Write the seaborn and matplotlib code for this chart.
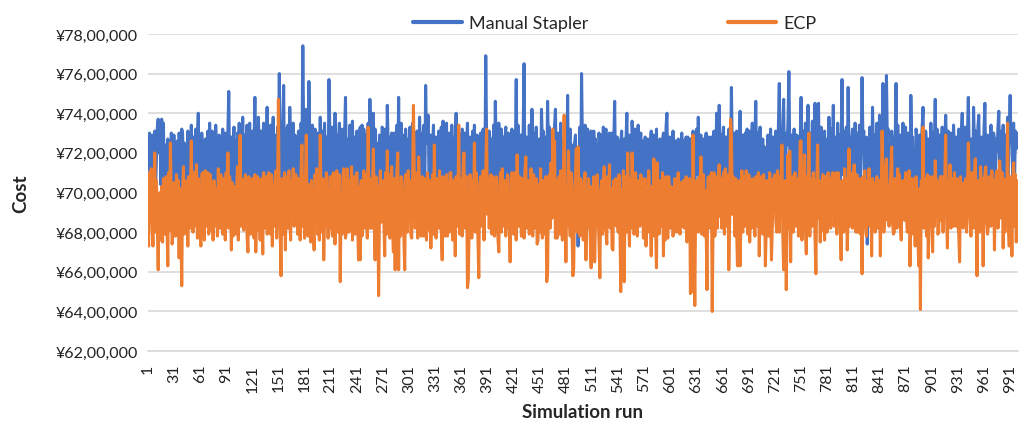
import numpy as np
import pandas as pd
import matplotlib
matplotlib.use("Agg")
import matplotlib.pyplot as plt
from matplotlib.lines import Line2D
from matplotlib.ticker import FuncFormatter
import seaborn as sns

# cost per simulation run, in lakh (x 1,00,000)
manual_stapler = [
    72.4, 69.6, 73.0, 71.0, 69.9, 72.9, 69.5, 72.3, 73.1, 70.2,
    71.8, 73.3, 73.7, 72.0, 73.6, 70.4, 73.7, 72.3, 73.5, 70.5,
    69.8, 72.4, 70.1, 72.7, 69.6, 72.1, 70.3, 73.0, 71.9, 69.9,
    72.9, 69.7, 72.3, 69.4, 72.6, 70.2, 73.0, 72.0, 69.6, 73.2,
    73.0, 70.0, 72.5, 68.0, 71.9, 69.8, 73.1, 69.5, 72.3, 70.4,
    73.4, 70.1, 72.8, 69.5, 72.0, 73.2, 69.8, 72.6, 74.0, 70.3,
    72.1, 69.6, 73.0, 70.0, 71.8, 69.5, 72.7, 70.2, 72.3, 73.1,
    69.9, 73.5, 71.8, 69.6, 73.1, 70.1, 72.5, 69.7, 73.4, 71.9,
    69.5, 72.2, 72.9, 69.9, 72.6, 69.6, 73.2, 71.7, 70.0, 73.0,
    72.4, 69.8, 73.1, 75.1, 70.6, 69.9, 72.8, 69.6, 72.5, 73.3,
    70.0, 72.6, 69.7, 73.0, 71.8, 73.5, 69.9, 72.7, 71.0, 73.8,
    70.3, 72.9, 69.7, 72.3, 73.4, 69.8, 72.1, 73.5, 70.1, 72.6,
    73.1, 69.6, 72.4, 74.8, 70.7, 73.0, 70.0, 73.8, 72.3, 69.8,
    73.1, 70.4, 72.5, 73.5, 69.9, 72.7, 71.1, 74.3, 70.2, 73.2,
    70.6, 73.4, 69.8, 72.4, 73.8, 70.3, 72.9, 72.0, 69.6, 73.3,
    72.1, 76.0, 72.8, 70.1, 73.5, 72.5, 75.4, 70.4, 73.2, 70.8,
    69.9, 73.4, 70.6, 74.3, 72.7, 69.8, 72.3, 73.5, 70.3, 72.9,
    72.2, 69.7, 69.2, 73.1, 70.8, 70.1, 73.5, 72.1, 77.4, 73.0,
    70.2, 72.6, 74.2, 71.0, 70.0, 75.6, 72.7, 70.8, 69.9, 73.4,
    72.4, 69.7, 73.2, 70.6, 69.6, 73.0, 72.2, 70.1, 73.8, 70.7,
    73.1, 69.8, 72.5, 73.5, 70.4, 72.8, 71.0, 69.7, 75.7, 73.2,
    70.6, 70.0, 73.3, 72.3, 69.6, 74.0, 70.9, 72.9, 70.2, 72.6,
    73.5, 69.9, 72.2, 73.2, 69.6, 72.5, 73.0, 74.8, 70.8, 70.1,
    72.7, 70.7, 73.4, 69.8, 72.3, 73.6, 70.3, 72.8, 71.0, 70.0,
    73.1, 72.4, 69.7, 73.1, 73.3, 70.6, 73.4, 70.1, 73.2, 72.2,
    72.9, 69.9, 72.6, 73.5, 70.9, 74.7, 72.7, 70.4, 72.3, 74.0,
    70.8, 73.2, 69.8, 72.5, 70.2, 69.1, 72.9, 70.6, 70.0, 73.3,
    73.2, 70.3, 72.6, 73.2, 69.9, 74.4, 72.2, 72.8, 69.7, 72.4,
    73.0, 70.7, 69.6, 73.0, 72.3, 70.2, 73.4, 70.9, 74.8, 70.4,
    72.5, 73.5, 70.0, 72.9, 70.6, 69.8, 73.2, 72.1, 70.3, 72.7,
    70.8, 73.3, 70.1, 72.6, 73.5, 69.9, 72.8, 72.2, 70.4, 73.1,
    70.7, 70.2, 73.8, 72.3, 69.7, 73.0, 70.6, 73.4, 70.0, 75.4,
    72.5, 73.1, 73.9, 70.1, 72.2, 72.9, 70.4, 72.4, 73.4, 69.8,
    72.3, 72.8, 70.3, 70.9, 73.1, 70.2, 72.6, 73.3, 70.7, 73.6,
    70.4, 73.1, 72.2, 73.5, 70.2, 72.5, 73.0, 69.9, 70.8, 73.4,
    72.1, 70.1, 72.7, 72.4, 74.0, 70.4, 73.1, 72.0, 70.0, 72.9,
    70.6, 73.2, 70.3, 72.6, 73.0, 69.8, 72.3, 73.5, 70.8, 70.1,
    72.8, 72.1, 70.2, 73.1, 70.7, 73.4, 69.9, 72.5, 72.9, 70.4,
    69.7, 72.2, 73.0, 70.1, 72.6, 73.2, 70.3, 70.8, 76.9, 72.7,
    70.9, 70.0, 73.1, 72.4, 69.8, 72.7, 70.7, 73.4, 70.2, 74.6,
    72.3, 72.9, 69.9, 73.5, 70.9, 70.3, 73.2, 70.6, 72.8, 70.1,
    72.6, 73.3, 70.4, 72.2, 73.0, 69.8, 72.5, 72.7, 73.2, 70.8,
    70.2, 73.1, 72.1, 75.7, 70.6, 73.4, 70.0, 72.4, 72.9, 70.3,
    72.3, 73.2, 76.5, 70.8, 69.9, 72.8, 72.2, 70.4, 73.4, 70.9,
    70.1, 74.2, 72.5, 73.0, 69.7, 72.1, 73.3, 70.3, 72.6, 72.7,
    70.7, 70.0, 74.2, 72.3, 73.1, 69.8, 72.4, 72.8, 70.4, 74.6,
    72.1, 73.3, 70.2, 70.8, 72.9, 69.9, 72.5, 73.4, 74.2, 70.6,
    70.1, 73.0, 72.2, 70.4, 73.5, 70.8, 70.0, 72.7, 72.3, 70.3,
    73.1, 70.7, 74.9, 70.2, 72.6, 73.2, 69.8, 72.4, 70.9, 70.1,
    72.5, 72.9, 69.9, 72.2, 67.3, 70.6, 73.3, 70.3, 76.0, 72.4,
    70.0, 72.8, 73.4, 70.8, 70.2, 73.2, 72.3, 69.7, 72.6, 73.1,
    70.9, 70.1, 73.1, 70.6, 72.7, 69.9, 72.4, 69.6, 73.0, 72.2,
    70.3, 72.9, 70.7, 73.3, 70.0, 72.6, 73.2, 70.4, 72.1, 72.7,
    73.0, 70.2, 72.3, 73.0, 69.9, 72.5, 74.6, 70.8, 70.1, 72.8,
    72.6, 70.6, 69.8, 72.4, 73.1, 70.3, 72.2, 72.7, 70.0, 72.6,
    74.0, 70.9, 70.2, 72.9, 70.7, 69.9, 73.6, 72.5, 70.4, 73.2,
    72.1, 70.1, 72.8, 73.4, 70.3, 72.3, 73.0, 69.7, 72.6, 70.6,
    70.0, 72.8, 70.9, 70.4, 72.7, 72.2, 69.8, 72.5, 73.1, 70.2,
    72.3, 72.9, 69.9, 70.7, 73.2, 70.3, 72.4, 69.6, 72.7, 72.1,
    70.1, 72.6, 73.0, 70.4, 70.8, 73.3, 74.0, 70.2, 72.2, 72.8,
    69.8, 72.5, 70.6, 73.1, 70.0, 72.3, 72.6, 70.3, 70.9, 72.7,
    69.9, 72.4, 70.7, 73.0, 70.1, 72.6, 69.7, 72.1, 72.8, 70.4,
    72.8, 70.8, 70.0, 72.7, 72.3, 70.2, 73.1, 70.6, 69.8, 72.5,
    73.2, 70.9, 73.8, 70.4, 72.4, 72.9, 69.9, 72.2, 72.7, 70.3,
    72.1, 73.0, 70.1, 72.6, 72.8, 70.0, 70.8, 72.8, 70.4, 72.3,
    73.1, 70.2, 70.9, 74.0, 72.5, 69.9, 74.4, 72.2, 72.9, 70.1,
    72.6, 73.3, 69.8, 72.1, 72.8, 70.3, 72.4, 73.2, 70.0, 70.8,
    75.3, 72.3, 70.4, 73.0, 70.6, 70.1, 73.1, 72.5, 69.7, 72.2,
    74.1, 70.9, 70.2, 72.9, 72.3, 69.9, 73.0, 70.7, 73.2, 70.3,
    72.6, 73.1, 70.1, 72.2, 73.5, 69.8, 72.4, 72.8, 74.6, 70.6,
    73.0, 70.0, 72.5, 73.3, 70.4, 70.8, 72.7, 69.9, 72.3, 69.3,
    72.1, 69.4, 72.9, 70.6, 70.2, 73.2, 70.9, 70.1, 72.8, 72.5,
    70.4, 73.1, 72.2, 69.8, 73.4, 75.5, 70.8, 72.7, 70.3, 73.3,
    74.7, 70.7, 70.1, 73.0, 72.4, 73.6, 76.1, 72.1, 70.0, 72.9,
    72.5, 70.4, 73.2, 70.9, 69.9, 72.9, 72.3, 72.8, 70.2, 72.6,
    74.8, 70.8, 70.1, 73.1, 72.2, 73.5, 69.8, 72.6, 74.4, 70.6,
    73.0, 70.2, 72.3, 73.6, 69.7, 72.1, 74.5, 72.5, 70.0, 72.9,
    74.5, 70.7, 70.3, 73.3, 70.9, 69.9, 72.6, 73.1, 69.5, 72.2,
    72.7, 70.1, 73.8, 70.8, 70.4, 73.2, 72.1, 74.4, 70.2, 72.8,
    72.3, 69.8, 73.5, 70.6, 72.9, 70.3, 72.4, 75.7, 70.9, 73.1,
    70.0, 72.6, 73.3, 70.4, 75.3, 72.1, 72.7, 70.1, 72.5, 73.2,
    70.7, 69.9, 73.5, 72.4, 69.7, 73.0, 70.6, 73.4, 70.3, 72.3,
    75.8, 72.6, 73.1, 70.0, 70.9, 72.8, 67.4, 72.5, 70.2, 73.3,
    70.8, 70.4, 74.3, 72.2, 72.9, 69.9, 72.4, 73.5, 70.6, 70.1,
    73.9, 72.1, 73.0, 70.3, 75.5, 72.3, 72.7, 69.8, 75.9, 72.6,
    73.2, 70.7, 70.2, 68.8, 73.1, 70.9, 70.1, 72.8, 72.5, 75.5,
    70.8, 73.4, 70.0, 72.3, 72.9, 70.4, 72.1, 73.5, 69.8, 72.4,
    73.3, 70.6, 69.9, 73.0, 72.2, 70.3, 74.9, 72.6, 72.8, 70.1,
    70.9, 69.7, 73.2, 72.7, 70.2, 72.3, 72.9, 69.9, 72.5, 73.3,
    74.3, 70.7, 70.0, 73.1, 72.4, 70.4, 72.7, 72.1, 70.1, 73.5,
    70.8, 73.0, 70.3, 72.3, 74.7, 70.6, 73.2, 69.9, 72.6, 72.9,
    70.2, 72.2, 73.3, 70.7, 69.8, 72.7, 73.9, 72.1, 70.4, 73.1,
    72.5, 70.1, 73.0, 70.8, 70.0, 73.4, 72.3, 70.3, 72.8, 70.9,
    69.9, 73.2, 70.6, 72.6, 72.9, 74.0, 70.2, 72.2, 73.3, 70.7,
    70.4, 73.0, 74.8, 72.1, 70.1, 72.7, 72.4, 69.8, 74.3, 72.5,
    73.1, 70.6, 70.3, 73.3, 73.9, 70.9, 70.0, 72.8, 72.3, 70.4,
    73.2, 74.5, 70.8, 70.2, 72.9, 72.5, 69.9, 72.2, 73.4, 70.6,
    70.1, 73.0, 72.6, 70.3, 72.7, 72.1, 73.3, 74.1, 70.7, 70.0,
    73.1, 72.4, 73.4, 70.4, 72.3, 72.9, 70.2, 73.8, 70.9, 73.2,
    74.9, 72.5, 73.3, 70.8, 73.5, 70.3, 73.1, 72.2, 73.0, 72.8,
]

ecp = [
    68.3, 67.3, 71.0, 69.0, 71.2, 68.2, 67.3, 69.6, 72.0, 68.0,
    70.6, 68.2, 66.1, 69.8, 70.0, 67.6, 70.3, 67.5, 70.7, 68.8,
    67.9, 70.8, 68.6, 66.3, 71.0, 68.1, 72.5, 69.5, 67.4, 68.0,
    70.5, 69.7, 67.8, 70.9, 68.7, 70.6, 66.7, 70.2, 68.3, 65.3,
    70.1, 71.3, 67.9, 70.6, 68.5, 70.4, 67.3, 70.8, 68.2, 69.9,
    72.6, 68.6, 68.0, 71.0, 68.3, 70.2, 71.4, 67.7, 70.7, 68.9,
    68.0, 67.3, 70.9, 71.0, 68.7, 67.6, 71.1, 68.3, 70.3, 71.0,
    67.9, 70.4, 70.9, 68.1, 70.0, 67.6, 70.6, 68.3, 69.8, 70.2,
    67.8, 71.2, 68.6, 68.2, 70.9, 68.5, 67.9, 70.7, 69.9, 67.6,
    71.0, 68.7, 72.0, 68.2, 70.8, 69.9, 67.1, 70.5, 67.8, 70.3,
    70.3, 67.9, 70.2, 71.3, 67.6, 69.9, 72.9, 68.3, 70.7, 68.8,
    68.1, 68.2, 70.9, 69.9, 67.8, 67.0, 70.8, 69.0, 67.9, 70.5,
    70.7, 68.5, 67.7, 70.9, 67.0, 70.0, 70.8, 68.1, 70.5, 67.6,
    70.7, 69.0, 66.9, 71.0, 68.2, 70.3, 70.8, 67.9, 68.0, 71.0,
    68.6, 67.9, 70.9, 67.3, 70.4, 68.3, 70.6, 71.1, 67.7, 70.0,
    74.7, 68.8, 68.1, 65.8, 70.7, 68.5, 67.9, 71.0, 67.1, 70.2,
    70.8, 68.2, 71.1, 69.0, 67.6, 70.6, 68.7, 71.2, 68.3, 68.7,
    70.9, 69.9, 67.9, 70.7, 68.5, 67.6, 71.1, 72.4, 68.3, 70.3,
    67.7, 70.8, 72.9, 68.6, 67.8, 70.4, 70.2, 67.5, 70.6, 68.9,
    68.2, 67.1, 70.9, 70.0, 71.2, 67.9, 70.5, 67.6, 72.9, 69.0,
    68.0, 70.7, 66.6, 68.8, 68.3, 71.0, 70.7, 67.7, 70.2, 68.2,
    70.8, 68.5, 67.8, 71.0, 68.9, 67.4, 70.6, 71.1, 68.0, 70.0,
    70.9, 65.5, 69.9, 67.9, 70.7, 71.2, 68.5, 67.7, 68.0, 71.2,
    68.7, 68.0, 70.6, 70.0, 71.3, 67.6, 70.4, 70.8, 67.9, 68.6,
    71.0, 68.3, 66.6, 70.3, 66.6, 70.6, 67.8, 68.9, 71.1, 68.2,
    70.2, 70.9, 67.7, 73.3, 68.5, 68.2, 70.7, 68.2, 70.1, 72.2,
    68.6, 66.6, 70.8, 68.3, 70.3, 64.8, 68.9, 71.1, 68.5, 70.4,
    70.6, 68.8, 66.8, 71.0, 67.9, 72.1, 68.7, 70.9, 67.7, 70.2,
    71.3, 68.2, 67.0, 70.7, 66.1, 70.1, 71.0, 72.0, 66.1, 70.5,
    67.8, 70.8, 70.6, 68.5, 67.7, 66.1, 70.9, 69.0, 68.0, 71.1,
    68.8, 70.6, 67.9, 67.7, 70.5, 74.4, 70.7, 68.2, 68.7, 71.0,
    67.7, 71.8, 70.2, 68.3, 67.8, 70.8, 68.9, 67.8, 70.7, 68.6,
    67.6, 71.0, 70.3, 68.1, 70.6, 67.2, 70.0, 70.9, 67.9, 72.4,
    68.5, 67.7, 70.7, 70.0, 68.2, 71.1, 68.7, 68.0, 66.6, 70.8,
    68.9, 67.8, 69.5, 70.9, 67.8, 70.5, 68.0, 71.0, 71.0, 68.6,
    67.6, 70.6, 70.1, 66.8, 70.8, 68.3, 68.9, 73.4, 67.9, 70.7,
    68.8, 67.8, 71.1, 72.0, 68.2, 70.3, 70.8, 65.2, 65.6, 68.5,
    70.9, 70.0, 67.7, 70.6, 68.7, 72.5, 68.0, 71.0, 68.6, 67.8,
    65.7, 70.4, 70.8, 68.3, 68.5, 71.1, 67.6, 70.2, 71.0, 73.2,
    68.9, 70.7, 68.2, 70.3, 70.9, 67.9, 70.8, 68.7, 67.8, 69.0,
    70.8, 68.6, 67.7, 67.0, 70.4, 71.0, 68.0, 71.2, 68.8, 68.3,
    70.6, 67.8, 70.2, 70.9, 68.2, 68.9, 66.5, 70.7, 71.0, 68.7,
    67.9, 71.0, 68.5, 67.6, 71.9, 70.1, 68.3, 70.8, 68.8, 67.8,
    70.7, 70.3, 67.7, 71.1, 71.8, 68.2, 68.9, 70.6, 67.9, 70.5,
    71.2, 68.5, 67.8, 70.9, 68.2, 70.2, 70.7, 67.4, 67.6, 70.4,
    68.0, 71.2, 68.8, 67.7, 70.6, 68.5, 67.9, 70.8, 65.5, 66.0,
    70.1, 70.9, 68.2, 71.5, 68.7, 73.2, 70.2, 72.6, 67.7, 70.6,
    67.7, 68.9, 70.8, 67.9, 71.1, 68.6, 67.6, 70.4, 73.9, 70.1,
    66.5, 70.3, 68.3, 72.1, 68.8, 67.8, 71.0, 68.5, 65.8, 66.2,
    70.2, 70.9, 72.2, 68.0, 72.3, 68.9, 67.8, 70.7, 70.3, 68.5,
    67.6, 70.4, 71.0, 66.6, 68.8, 68.2, 70.7, 70.1, 67.7, 66.2,
    70.3, 67.9, 70.8, 66.5, 68.6, 68.3, 70.9, 68.9, 67.5, 65.7,
    70.1, 70.6, 67.9, 70.4, 71.3, 68.5, 68.0, 67.4, 70.8, 68.8,
    71.4, 68.2, 70.2, 67.2, 67.1, 70.6, 68.9, 70.7, 68.3, 70.3,
    68.0, 70.9, 68.6, 65.0, 70.1, 67.9, 71.1, 65.5, 70.4, 70.8,
    68.0, 72.0, 68.8, 67.3, 70.7, 68.2, 72.0, 70.1, 67.9, 68.0,
    71.0, 68.7, 67.8, 70.6, 68.8, 68.3, 70.9, 70.2, 70.7, 67.7,
    70.4, 70.7, 67.3, 68.9, 68.0, 71.1, 70.2, 68.5, 66.8, 70.3,
    67.8, 71.7, 68.7, 68.2, 66.2, 71.5, 68.9, 67.9, 70.6, 68.8,
    68.3, 71.0, 66.8, 70.1, 67.6, 70.8, 68.6, 67.7, 70.8, 70.2,
    68.2, 70.3, 68.9, 67.8, 68.2, 70.7, 68.5, 68.0, 70.4, 71.0,
    68.7, 67.9, 70.5, 68.8, 68.3, 70.6, 68.2, 70.1, 70.8, 67.5,
    70.3, 68.2, 70.7, 64.9, 70.3, 65.0, 72.9, 67.8, 64.3, 69.6,
    70.6, 70.2, 68.0, 70.8, 68.6, 71.8, 67.9, 70.5, 70.9, 67.8,
    70.1, 68.3, 65.1, 70.7, 70.8, 68.7, 68.2, 71.0, 64.0, 68.5,
    71.0, 67.8, 70.8, 69.6, 68.2, 70.6, 71.4, 68.8, 70.7, 68.2,
    70.3, 71.0, 67.9, 71.2, 70.1, 68.3, 70.9, 66.1, 68.5, 73.7,
    73.0, 68.9, 70.8, 70.3, 67.8, 70.7, 68.2, 66.3, 70.2, 70.6,
    66.3, 68.7, 71.1, 68.0, 69.4, 70.8, 68.3, 71.1, 70.1, 67.9,
    70.9, 67.5, 70.4, 68.2, 70.7, 70.0, 68.7, 67.8, 70.8, 68.9,
    68.3, 71.0, 66.8, 70.3, 70.8, 69.0, 67.9, 70.9, 70.1, 66.3,
    68.2, 70.6, 69.2, 67.8, 71.0, 69.6, 66.6, 68.3, 70.7, 69.6,
    70.9, 68.6, 68.0, 71.1, 68.9, 68.0, 70.8, 70.4, 72.4, 67.9,
    66.1, 70.1, 70.6, 65.1, 68.8, 71.9, 68.2, 72.1, 66.5, 70.5,
    70.8, 68.0, 70.2, 71.0, 68.3, 68.7, 70.7, 67.8, 70.3, 72.6,
    72.6, 67.6, 70.6, 68.8, 71.9, 68.2, 66.9, 70.8, 68.6, 73.0,
    67.8, 70.7, 69.3, 68.3, 71.0, 70.2, 67.7, 65.9, 70.4, 72.4,
    68.7, 70.6, 67.5, 70.1, 68.1, 70.9, 68.6, 67.6, 70.8, 68.9,
    68.0, 71.0, 70.1, 70.7, 68.2, 70.4, 71.0, 70.7, 68.3, 68.8,
    71.0, 67.9, 70.8, 71.0, 68.9, 68.2, 66.6, 70.6, 70.1, 68.0,
    71.2, 70.2, 70.7, 67.1, 68.8, 72.2, 68.3, 71.0, 68.5, 68.2,
    70.6, 71.4, 68.7, 68.0, 70.9, 68.0, 70.4, 70.7, 67.9, 70.1,
    65.9, 70.8, 68.9, 71.1, 68.2, 67.8, 70.6, 68.8, 71.2, 68.3,
    70.3, 66.8, 70.7, 68.5, 70.5, 68.0, 70.2, 70.8, 68.2, 68.9,
    70.6, 66.8, 70.1, 73.1, 70.8, 68.0, 68.8, 71.2, 71.7, 68.6,
    70.2, 68.3, 70.3, 71.0, 72.3, 68.5, 67.9, 68.0, 70.7, 70.1,
    68.2, 71.2, 70.2, 70.9, 68.3, 67.6, 70.4, 70.6, 70.2, 68.6,
    71.0, 68.8, 68.0, 70.5, 71.1, 66.3, 68.7, 70.7, 70.7, 67.9,
    70.1, 67.3, 70.8, 68.5, 68.0, 66.3, 70.2, 64.1, 70.6, 68.8,
    73.3, 68.2, 70.7, 70.4, 67.8, 70.9, 66.7, 68.9, 68.5, 70.8,
    68.7, 67.0, 70.8, 68.3, 71.6, 70.1, 70.6, 67.9, 68.0, 70.4,
    70.8, 68.6, 70.8, 68.0, 70.2, 70.8, 72.9, 68.8, 67.2, 70.6,
    70.1, 71.4, 68.2, 70.7, 68.7, 68.3, 71.0, 70.3, 68.3, 70.7,
    68.5, 67.9, 66.5, 70.8, 68.9, 70.3, 68.2, 70.5, 69.7, 70.7,
    68.0, 70.1, 72.5, 70.6, 68.6, 67.8, 71.0, 68.8, 68.2, 70.8,
    71.7, 68.9, 65.8, 70.6, 68.7, 68.0, 71.3, 70.2, 70.7, 66.3,
    70.4, 70.9, 71.3, 68.5, 67.9, 68.3, 70.8, 70.1, 68.3, 71.1,
    68.9, 70.6, 67.1, 70.3, 70.9, 71.1, 68.2, 70.1, 71.6, 70.6,
    68.7, 71.0, 67.2, 70.4, 68.0, 70.7, 68.8, 73.5, 68.3, 67.3,
    70.8, 70.2, 66.8, 70.5, 71.5, 68.3, 70.9, 67.5, 68.9, 70.6,
]

series_names = ["Manual Stapler", "ECP"]
colors = ["#4472C4", "#ED7D31"]
runs = np.arange(1, len(manual_stapler) + 1)
tick_runs = list(range(1, 1000, 30))

df = pd.DataFrame({
    "run": np.concatenate([runs, runs]),
    "cost": np.array(manual_stapler + ecp) * 100000,
    "series": [series_names[0]] * len(runs) + [series_names[1]] * len(runs),
})

sns.set_style("white")
plt.rcParams["font.family"] = ["Lato", "DejaVu Sans"]


def indian(v, pos):
    # ¥78,00,000 style grouping
    s = str(int(round(v)))
    last3, rest = s[-3:], s[:-3]
    groups = []
    while len(rest) > 2:
        groups.insert(0, rest[-2:])
        rest = rest[:-2]
    if rest:
        groups.insert(0, rest)
    return "¥" + ",".join(groups + [last3])


fig, ax = plt.subplots(figsize=(10.19, 4.31), dpi=100)
fig.subplots_adjust(left=0.145, right=0.999, top=0.919, bottom=0.183)

sns.lineplot(data=df, x="run", y="cost", hue="series", palette=colors,
             estimator=None, sort=False, linewidth=2.2, legend=False, ax=ax)

ax.set_xlim(1, 1000)
ax.set_ylim(6200000, 7800000)
ax.set_yticks(np.arange(6200000, 7800001, 200000))
ax.yaxis.set_major_formatter(FuncFormatter(indian))
ax.set_xticks(tick_runs)
ax.set_xticklabels([str(t) for t in tick_runs], rotation=90)
ax.tick_params(axis="both", length=0, labelsize=11.5, colors="#222222")
ax.tick_params(axis="x", pad=9)
ax.tick_params(axis="y", pad=7)

ax.yaxis.grid(True, color="#d9d9d9", linewidth=1.2)
ax.set_axisbelow(True)
for side in ["left", "right", "top"]:
    ax.spines[side].set_visible(False)
ax.spines["bottom"].set_color("#d9d9d9")
ax.spines["bottom"].set_linewidth(1.2)

ax.set_xlabel("Simulation run", fontsize=13.5, fontweight="bold")
ax.set_ylabel("Cost", fontsize=13.5, fontweight="bold")
ax.xaxis.set_label_coords(0.5, -0.165)
ax.yaxis.set_label_coords(-0.136, 0.5)

handles = [Line2D([], [], color=c, linewidth=3) for c in colors]
fig.legend(handles, series_names, loc="upper center", bbox_to_anchor=(0.6035, 1.0),
           ncol=2, frameon=False, fontsize=13, handlelength=2.7,
           columnspacing=7.7, handletextpad=0.4)

fig.savefig("out.png", dpi=100)
